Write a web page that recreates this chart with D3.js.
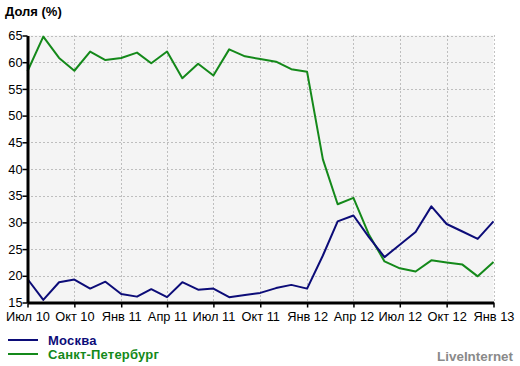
<!DOCTYPE html>
<html lang="ru">
<head>
    <meta charset="UTF-8">
    <script src="https://d3js.org/d3.v7.min.js"></script>
    <style>
        body {margin: 0; background: #fff; font-family: "Liberation Sans", Arial, sans-serif;}
        path.line {fill: none; stroke-width: 2px; stroke-linejoin: round;}
        .grid line {stroke: #888; stroke-dasharray: 1 3;}
    </style>
</head>
<body>
<svg class="chart" width="520" height="366"></svg>
<script type="text/javascript">
    // monthly points, Jul 2010 .. Jan 2013
    const months = ['2010-07','2010-08','2010-09','2010-10','2010-11','2010-12',
        '2011-01','2011-02','2011-03','2011-04','2011-05','2011-06',
        '2011-07','2011-08','2011-09','2011-10','2011-11','2011-12',
        '2012-01','2012-02','2012-03','2012-04','2012-05','2012-06',
        '2012-07','2012-08','2012-09','2012-10','2012-11','2012-12','2013-01'];

    const moscow = [19.4, 15.5, 18.8, 19.3, 17.6, 18.9, 16.6, 16.1, 17.5, 16.0, 18.8, 17.4,
        17.6, 16.0, 16.4, 16.8, 17.7, 18.3, 17.6, 23.8, 30.2, 31.3, 27.3, 23.5,
        25.8, 28.2, 33.0, 29.7, 28.3, 26.9, 30.2];

    const spb = [58.3, 64.8, 60.8, 58.4, 62.0, 60.4, 60.8, 61.8, 59.8, 62.0, 57.0, 59.7,
        57.5, 62.4, 61.1, 60.6, 60.1, 58.7, 58.2, 41.8, 33.4, 34.6, 27.8, 22.7,
        21.4, 20.8, 22.9, 22.5, 22.1, 19.9, 22.6];

    const xTicks = ['2010-07','2010-10','2011-01','2011-04','2011-07','2011-10',
        '2012-01','2012-04','2012-07','2012-10','2013-01'];
    const xTickLabels = ['Июл 10','Окт 10','Янв 11','Апр 11','Июл 11','Окт 11',
        'Янв 12','Апр 12','Июл 12','Окт 12','Янв 13'];
    const yTicks = [15, 20, 25, 30, 35, 40, 45, 50, 55, 60, 65];

    const seriesNames = ['Москва', 'Санкт-Петербург'];
    const seriesColors = ['#0c0c78', '#14891a'];

    const parse = d3.utcParse('%Y-%m');
    const dates = months.map(parse);

    const m = {left: 27.5, right: 493.5, top: 35.5, bottom: 302.5};

    const svg = d3.select('.chart');

    const x = d3.scaleUtc()
        .domain([parse(months[0]), parse(months[months.length - 1])])
        .range([m.left, m.right]);
    const y = d3.scaleLinear()
        .domain([15, 65])
        .range([m.bottom, m.top]);

    // title
    svg.append('text')
        .attr('x', 5).attr('y', 16)
        .attr('font-size', 13).attr('font-weight', 'bold')
        .attr('fill', '#000').text('Доля (%)');

    // plot background
    svg.append('rect')
        .attr('x', m.left).attr('y', m.top)
        .attr('width', m.right - m.left).attr('height', m.bottom - m.top)
        .attr('fill', '#f4f4f4');

    // grid
    const grid = svg.append('g').attr('class', 'grid');
    grid.selectAll('line.h').data(yTicks.slice(1)).enter().append('line')
        .attr('x1', m.left).attr('x2', m.right)
        .attr('y1', d => Math.round(y(d)) + 0.5).attr('y2', d => Math.round(y(d)) + 0.5);
    grid.selectAll('line.v').data(xTicks.slice(1)).enter().append('line')
        .attr('x1', d => Math.round(x(parse(d))) + 0.5).attr('x2', d => Math.round(x(parse(d))) + 0.5)
        .attr('y1', m.top).attr('y2', m.bottom);

    // lines
    const line = d3.line()
        .x((d, i) => x(dates[i]))
        .y(d => y(d));
    [spb, moscow].forEach((s, k) => {
        svg.append('path')
            .attr('class', 'line')
            .attr('stroke', seriesColors[1 - k])
            .attr('d', line(s));
    });

    // axes
    const yAxis = svg.append('g')
        .attr('transform', `translate(${m.left},0)`)
        .call(d3.axisLeft(y).tickValues(yTicks).tickSize(5).tickSizeOuter(0));
    const xAxis = svg.append('g')
        .attr('transform', `translate(0,${m.bottom})`)
        .call(d3.axisBottom(x).tickValues(xTicks.map(parse)).tickSize(5).tickSizeOuter(0)
            .tickFormat((d, i) => xTickLabels[i]));

    [yAxis, xAxis].forEach(a => {
        a.select('.domain').attr('stroke', '#000').attr('stroke-width', 3);
        a.selectAll('.tick line').attr('stroke', '#000').attr('stroke-width', 1.5);
        a.selectAll('text').attr('font-family', '"Liberation Sans", Arial, sans-serif')
            .attr('font-size', 12.8).attr('fill', '#000');
    });
    yAxis.selectAll('text').attr('x', -5);
    xAxis.selectAll('text').attr('y', 9);

    // legend
    seriesNames.forEach((n, i) => {
        const ly = 340 + i * 14;
        svg.append('line')
            .attr('x1', 8).attr('x2', 38)
            .attr('y1', ly).attr('y2', ly)
            .attr('stroke', seriesColors[i]).attr('stroke-width', 2);
        svg.append('text')
            .attr('x', 48).attr('y', ly + 5)
            .attr('font-size', 13).attr('font-weight', 'bold')
            .attr('letter-spacing', 0.2)
            .attr('fill', seriesColors[i]).text(n);
    });

    svg.append('text')
        .attr('x', 513).attr('y', 361)
        .attr('text-anchor', 'end')
        .attr('font-size', 13.4).attr('font-weight', 'bold')
        .attr('fill', '#8a8a8a').text('LiveInternet');
</script>
</body>
</html>
